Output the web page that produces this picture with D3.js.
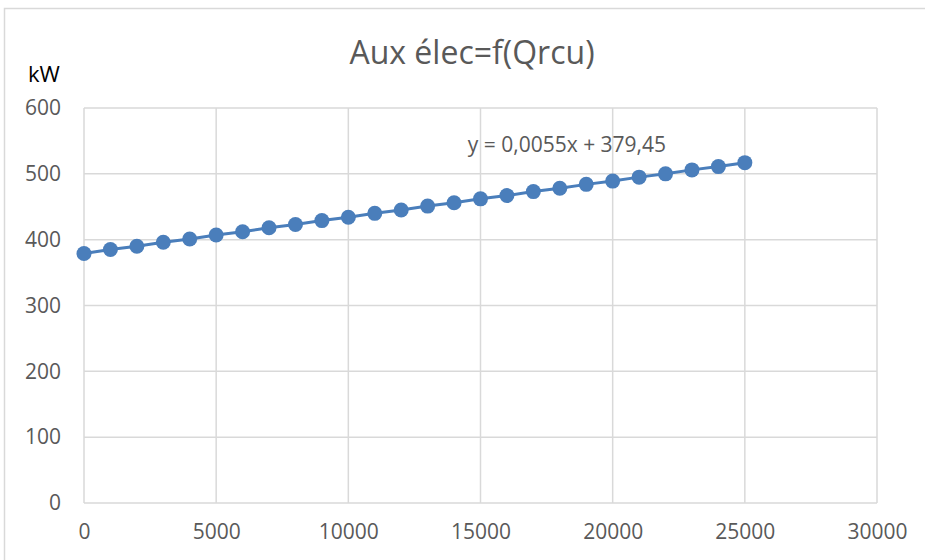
<!DOCTYPE html>
<html>
<head>
<meta charset="utf-8">
<script src="https://cdn.jsdelivr.net/npm/d3@7"></script>
<style>
  body { margin: 0; background: #fff; }
  text { font-family: "Open Sans", sans-serif; }
</style>
</head>
<body>
<div id="chart"></div>
<script>
// Values
const qrcu = [0, 1000, 2000, 3000, 4000, 5000, 6000, 7000, 8000, 9000, 10000, 11000, 12000,
              13000, 14000, 15000, 16000, 17000, 18000, 19000, 20000, 21000, 22000, 23000, 24000, 25000];
const auxKw = [379, 385, 390, 396, 401, 407, 412, 418, 423, 429, 434, 440, 445,
               451, 456, 462, 467, 473, 478, 484, 489, 495, 500, 506, 511, 517];
const xTicks = [0, 5000, 10000, 15000, 20000, 25000, 30000];
const yTicks = [0, 100, 200, 300, 400, 500, 600];
const titleText = "Aux élec=f(Qrcu)";
const unitText = "kW";
const trendText = "y = 0,0055x + 379,45";

const W = 925, H = 560;
const margin = {top: 108, right: 48, bottom: 57, left: 84},
      width = W - margin.left - margin.right,
      height = H - margin.top - margin.bottom;

const svg = d3.select("#chart").append("svg")
    .attr("width", W)
    .attr("height", H);

// chart frame
svg.append("rect")
    .attr("x", 4.5).attr("y", 8.5)
    .attr("width", W + 10).attr("height", H + 10)
    .attr("fill", "none")
    .attr("stroke", "#d9d9d9")
    .attr("stroke-width", 1.5);

const g = svg.append("g")
    .attr("transform", `translate(${margin.left},${margin.top})`);

const x = d3.scaleLinear().domain([0, 30000]).range([0, width]);
const y = d3.scaleLinear().domain([0, 600]).range([height, 0]);

// gridlines
g.selectAll("line.hgrid")
    .data(yTicks)
    .enter().append("line")
    .attr("class", "hgrid")
    .attr("x1", 0).attr("x2", width)
    .attr("y1", d => y(d)).attr("y2", d => y(d))
    .attr("stroke", "#d9d9d9").attr("stroke-width", 1.5);

g.selectAll("line.vgrid")
    .data(xTicks)
    .enter().append("line")
    .attr("class", "vgrid")
    .attr("y1", 0).attr("y2", height)
    .attr("x1", d => x(d)).attr("x2", d => x(d))
    .attr("stroke", "#d9d9d9").attr("stroke-width", 1.5);

// tick labels
const xAxis = g.append("g")
    .attr("transform", `translate(0,${height})`)
    .call(d3.axisBottom(x).tickValues(xTicks).tickSize(0).tickPadding(21).tickFormat(d3.format("d")));
const yAxis = g.append("g")
    .call(d3.axisLeft(y).tickValues(yTicks).tickSize(0).tickPadding(23).tickFormat(d3.format("d")));
[xAxis, yAxis].forEach(a => {
    a.select(".domain").remove();
    a.selectAll("text")
        .attr("fill", "#595959")
        .style("font-size", "21px")
        .style("font-family", "\"Open Sans\", sans-serif");
});

// series line + markers
const line = d3.line()
    .x((d, i) => x(qrcu[i]))
    .y(d => y(d));

g.append("path")
    .datum(auxKw)
    .attr("d", line)
    .attr("fill", "none")
    .attr("stroke", "#4a7ebb")
    .attr("stroke-width", 3);

g.selectAll("circle")
    .data(auxKw)
    .enter().append("circle")
    .attr("cx", (d, i) => x(qrcu[i]))
    .attr("cy", d => y(d))
    .attr("r", 7.5)
    .attr("fill", "#4a7ebb");

// trendline equation
g.append("text")
    .attr("x", x(18270))
    .attr("y", y(533))
    .attr("text-anchor", "middle")
    .attr("fill", "#595959")
    .style("font-size", "21px")
    .text(trendText);

// title and unit
svg.append("text")
    .attr("x", 472)
    .attr("y", 64)
    .attr("text-anchor", "middle")
    .attr("fill", "#595959")
    .style("font-size", "32px")
    .text(titleText);

svg.append("text")
    .attr("x", 28)
    .attr("y", 82)
    .attr("fill", "#000")
    .style("font-size", "22px")
    .text(unitText);
</script>
</body>
</html>
